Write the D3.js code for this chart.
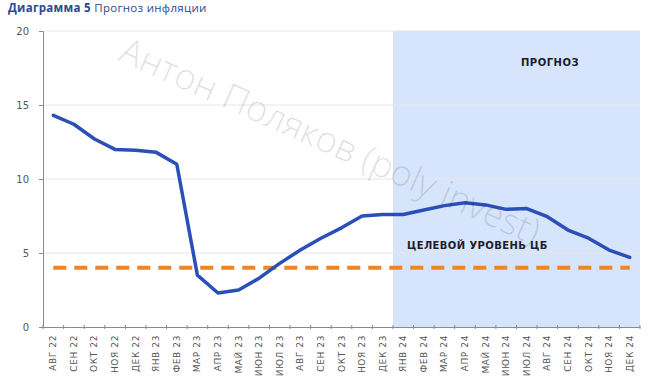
<!doctype html>
<html>
  <head>
    <meta charset="UTF-8">
    <title>Прогноз инфляции</title>
    <style>
      body { margin: 0; background: #fff; font-family: "Open Sans", "DejaVu Sans", sans-serif; }
      .grid line { stroke: #e6e6e6; }
      .axis path, .axis line { stroke: #8a8a8a; }
      .axis text { fill: #555; }
    </style>
  </head>
  <body>
    <svg id="chart" width="653" height="385"></svg>
    <script src="https://d3js.org/d3.v7.min.js"></script>
    <script>
      // months on the x axis
      const months = ["АВГ 22", "СЕН 22", "ОКТ 22", "НОЯ 22", "ДЕК 22", "ЯНВ 23", "ФЕВ 23", "МАР 23",
        "АПР 23", "МАЙ 23", "ИЮН 23", "ИЮЛ 23", "АВГ 23", "СЕН 23", "ОКТ 23", "НОЯ 23", "ДЕК 23",
        "ЯНВ 24", "ФЕВ 24", "МАР 24", "АПР 24", "МАЙ 24", "ИЮН 24", "ИЮЛ 24", "АВГ 24", "СЕН 24",
        "ОКТ 24", "НОЯ 24", "ДЕК 24"];
      // inflation, % y/y
      const inflation = [14.3, 13.7, 12.7, 12.0, 11.95, 11.8, 11.0, 3.5, 2.3, 2.5, 3.3, 4.3, 5.2,
        6.0, 6.7, 7.5, 7.6, 7.6, 7.9, 8.2, 8.4, 8.25, 7.95, 8.0, 7.45, 6.55, 6.0, 5.2, 4.7];
      const target = 4;
      const forecastStart = "ЯНВ 24";
      const yTicks = [0, 5, 10, 15, 20];

      const svg = d3.select("#chart");
      const m = { left: 43, right: 640, top: 31, bottom: 327 };

      const x = d3.scaleBand().domain(months).range([m.left, m.right]);
      const y = d3.scaleLinear().domain([0, 20]).range([m.bottom, m.top]);
      const cx = d => x(d) + x.bandwidth() / 2;

      // forecast shading
      svg.append("rect")
        .attr("x", x(forecastStart))
        .attr("y", m.top)
        .attr("width", m.right - x(forecastStart))
        .attr("height", m.bottom - m.top)
        .attr("fill", "#d6e5fb");

      // gridlines
      svg.append("g").attr("class", "grid")
        .selectAll("line")
        .data(yTicks.slice(1))
        .enter().append("line")
          .attr("x1", m.left).attr("x2", m.right)
          .attr("y1", d => y(d)).attr("y2", d => y(d));

      // axes
      svg.append("g").attr("class", "axis")
        .attr("transform", `translate(${m.left},0)`)
        .call(d3.axisLeft(y).tickValues(yTicks).tickSize(4).tickPadding(10))
        .call(g => g.selectAll("text").style("font-size", "10px").style("font-family", "DejaVu Sans"));

      const xAxis = svg.append("g").attr("class", "axis")
        .attr("transform", `translate(0,${m.bottom})`)
        .call(d3.axisBottom(x).tickSize(0).tickPadding(6));
      xAxis.selectAll("text")
        .style("font-size", "9px")
        .style("font-family", "DejaVu Sans")
        .attr("letter-spacing", "0.6")
        .attr("transform", "rotate(-90)")
        .attr("text-anchor", "end")
        .attr("dx", 0).attr("dy", 0)
        .attr("x", -8).attr("y", 3);
      // small tick marks at band edges
      xAxis.selectAll(".edge")
        .data(months.concat([null]))
        .enter().append("line")
          .attr("x1", (d, i) => m.left + i * x.step())
          .attr("x2", (d, i) => m.left + i * x.step())
          .attr("y1", -2).attr("y2", 2);

      // target level
      svg.append("line")
        .attr("x1", cx(months[0]))
        .attr("x2", cx(months[months.length - 1]))
        .attr("y1", y(target)).attr("y2", y(target))
        .attr("stroke", "#ef8523")
        .attr("stroke-width", 4)
        .attr("stroke-dasharray", "13,8");

      // inflation line
      const line = d3.line()
        .x((d, i) => cx(months[i]))
        .y(d => y(d));
      svg.append("path")
        .datum(inflation)
        .attr("d", line)
        .attr("fill", "none")
        .attr("stroke", "#2a4fb8")
        .attr("stroke-width", 3.5)
        .attr("stroke-linejoin", "round")
        .attr("stroke-linecap", "round");

      // labels
      svg.append("text")
        .attr("x", 550).attr("y", 66)
        .attr("text-anchor", "middle")
        .style("font-family", "DejaVu Sans")
        .style("font-size", "10px").style("font-weight", "bold")
        .attr("fill", "#1c1c2a")
        .attr("letter-spacing", "0.5")
        .text("ПРОГНОЗ");
      svg.append("text")
        .attr("x", 407).attr("y", 249)
        .style("font-family", "DejaVu Sans")
        .style("font-size", "10px").style("font-weight", "bold")
        .attr("fill", "#1c1c2a")
        .attr("letter-spacing", "0.4")
        .text("ЦЕЛЕВОЙ УРОВЕНЬ ЦБ");

      // title
      const title = svg.append("text").attr("x", 8).attr("y", 12)
        .style("font-size", "11.5px").attr("letter-spacing", "0.3");
      title.append("tspan").attr("font-weight", "bold").attr("fill", "#2b4a8e").text("Диаграмма 5");
      title.append("tspan").attr("fill", "#2b4a8e").text(" Прогноз инфляции");

      // watermark
      svg.append("text")
        .attr("transform", "translate(117,60) rotate(24)")
        .style("font-size", "36px")
        .style("font-weight", "300")
        .attr("fill", "#000")
        .attr("fill-opacity", 0.12)
        .text("Антон Поляков (poly invest)");
    </script>
  </body>
</html>
